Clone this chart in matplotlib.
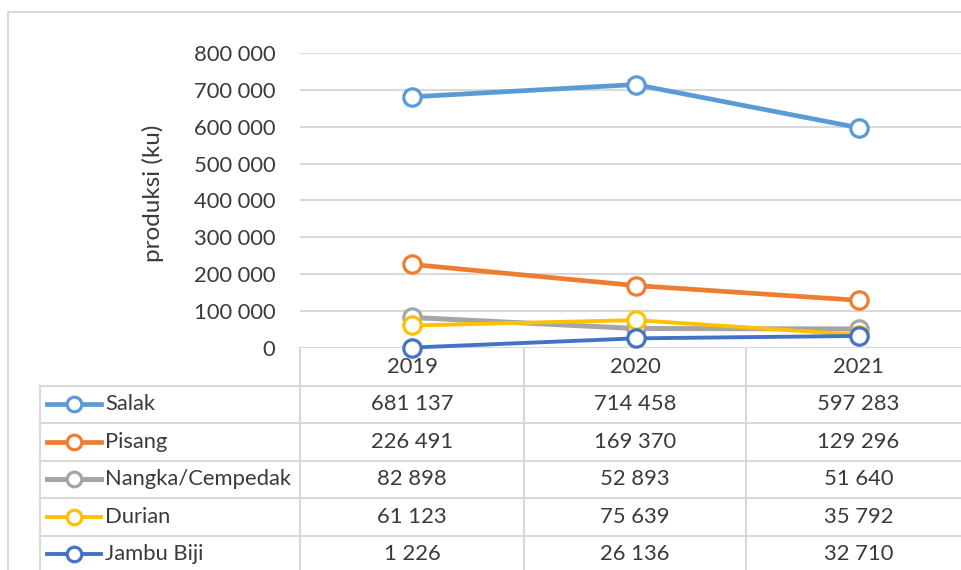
import matplotlib.pyplot as plt
from matplotlib.lines import Line2D

plt.rcParams['font.family'] = ['Lato', 'DejaVu Sans']

# data
years = ["2019", "2020", "2021"]
series = ["Salak", "Pisang", "Nangka/Cempedak", "Durian", "Jambu Biji"]
salak = [681137, 714458, 597283]
pisang = [226491, 169370, 129296]
nangka = [82898, 52893, 51640]
durian = [61123, 75639, 35792]
jambu = [1226, 26136, 32710]
colors = ["#5B9BD5", "#ED7D31", "#A5A5A5", "#FFC000", "#4472C4"]
yticks = [0, 100000, 200000, 300000, 400000, 500000, 600000, 700000, 800000]

W, H = 962, 570
fig = plt.figure(figsize=(W / 100, H / 100), dpi=100)
txt = "#3A3A3A"
grid = "#D9D9D9"
fs = 15.8


def fx(px):
    return px / W


def fy(py):
    return 1 - py / H


# plot area (pixel layout of the Excel chart)
x0, x1 = 300.5, 970.5
ytop, ybot = 53, 348
ax = fig.add_axes([fx(x0), fy(ybot), fx(x1) - fx(x0), fy(ytop) - fy(ybot)])
ax.set_xlim(-0.5, 2.5)
ax.set_ylim(0, 800000)
for s in ax.spines.values():
    s.set_visible(False)
ax.set_yticks(yticks)
ax.set_yticklabels([f"{v:,}".replace(",", " ") for v in yticks])
ax.tick_params(axis="y", length=0, pad=18, labelsize=fs, labelcolor=txt)
ax.set_xticks([])
ax.yaxis.grid(True, color=grid, lw=1.5)
ax.set_axisbelow(True)

data = [salak, pisang, nangka, durian, jambu]
widths = [3.4, 3.4, 3.6, 2.8, 2.8]
for vals, c, lw in zip(data, colors, widths):
    ax.plot(range(3), vals, color=c, lw=lw, marker="o", ms=12.5,
            mfc="white", mec=c, mew=2.3, clip_on=False, zorder=3)

fig.text(fx(153), fy(193), "produksi (ku)", rotation=90, ha="center",
         va="center", fontsize=17.5, color=txt)

# data table
cols = [300.5, 523.5, 746.5, 970.5]
rows = [348, 385.5, 423, 460.5, 498, 535.5, 573]
tl = dict(color=grid, lw=1.5, transform=fig.transFigure)
for r in rows[1:]:
    fig.add_artist(Line2D([fx(40), fx(x1)], [fy(r), fy(r)], **tl))
fig.add_artist(Line2D([fx(40), fx(40)], [fy(rows[1]), fy(rows[-1])], **tl))
for c in cols:
    fig.add_artist(Line2D([fx(c), fx(c)], [fy(rows[0]), fy(rows[-1])], **tl))

for j, yr in enumerate(years):
    cx = (cols[j] + cols[j + 1]) / 2
    fig.text(fx(cx), fy((rows[0] + rows[1]) / 2), yr, ha="center",
             va="center", fontsize=fs, color=txt)

for i, (name, vals, c, lw) in enumerate(zip(series, data, colors, widths)):
    cy = (rows[i + 1] + rows[i + 2]) / 2
    fig.add_artist(Line2D([fx(47), fx(101)], [fy(cy), fy(cy)], color=c,
                          lw=lw, transform=fig.transFigure))
    fig.add_artist(Line2D([fx(74)], [fy(cy)], marker="o", ms=10.5, mfc="white",
                          mec=c, mew=2.3, transform=fig.transFigure))
    fig.text(fx(105), fy(cy), name, ha="left", va="center", fontsize=fs,
             color=txt)
    for j, v in enumerate(vals):
        cx = (cols[j] + cols[j + 1]) / 2
        fig.text(fx(cx), fy(cy), f"{v:,}".replace(",", " "), ha="center",
                 va="center", fontsize=fs, color=txt)

# chart area border
fig.add_artist(Line2D([fx(8), fx(8), fx(W + 5)], [fy(H + 5), fy(12), fy(12)],
                      color=grid, lw=1.5, transform=fig.transFigure))

fig.savefig("out.png", dpi=100)
